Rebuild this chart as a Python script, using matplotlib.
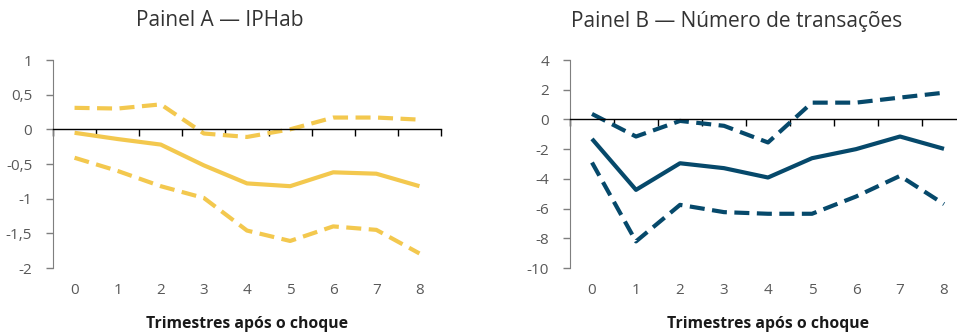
import matplotlib.pyplot as plt
from matplotlib.ticker import FuncFormatter

plt.rcParams['font.family'] = ['Open Sans', 'DejaVu Sans']

# Trimestres após o choque
trimestres = [0, 1, 2, 3, 4, 5, 6, 7, 8]

# Painel A — IPHab (resposta e intervalo)
iphab_resp = [-0.05, -0.14, -0.22, -0.52, -0.78, -0.82, -0.62, -0.64, -0.82]
iphab_sup = [0.31, 0.30, 0.36, -0.06, -0.11, 0.00, 0.17, 0.17, 0.14]
iphab_inf = [-0.41, -0.60, -0.82, -0.99, -1.46, -1.61, -1.40, -1.45, -1.79]

# Painel B — Número de transações
trans_resp = [-1.31, -4.74, -2.95, -3.28, -3.91, -2.61, -2.00, -1.15, -1.98]
trans_sup = [0.37, -1.15, -0.10, -0.43, -1.55, 1.13, 1.13, 1.47, 1.80]
trans_inf = [-2.90, -8.21, -5.75, -6.24, -6.35, -6.35, -5.19, -3.80, -5.70]

amarelo = "#F3C84E"
azul = "#06496B"
cinza = "#595959"

fig = plt.figure(figsize=(9.57, 3.36), dpi=100)
ax_a = fig.add_axes([53/957, 68/336, 388/957, 208/336])
ax_b = fig.add_axes([570/957, 68/336, 396/957, 208/336])


def virgula(v, pos):
    s = f"{v:g}".replace(".", ",")
    return s


def montar(ax, resp, sup, inf, cor, yticks):
    ax.plot(trimestres, resp, color=cor, lw=3.0, solid_capstyle="butt")
    for serie in (sup, inf):
        ax.plot(trimestres, serie, color=cor, lw=3.0, dashes=(3.6, 1.8))
    ax.set_xlim(-0.5, 8.5)
    ax.set_ylim(yticks[0], yticks[-1])
    ax.set_yticks(yticks)
    ax.yaxis.set_major_formatter(FuncFormatter(virgula))
    ax.tick_params(axis="y", length=5, width=1, color="#7f7f7f", labelcolor=cinza,
                   labelsize=11, pad=10)
    for lado in ("top", "right"):
        ax.spines[lado].set_visible(False)
    ax.spines["left"].set_color("#7f7f7f")
    # eixo x cruzando em zero, com marcas entre as categorias
    ax.spines["bottom"].set_position(("data", 0))
    ax.spines["bottom"].set_color("black")
    ax.spines["bottom"].set_linewidth(1)
    ax.set_xticks([t - 0.5 for t in trimestres] + [8.5])
    ax.set_xticklabels([])
    ax.tick_params(axis="x", length=5, width=1, color="black")
    # rótulos das categorias embaixo do gráfico
    sec = ax.secondary_xaxis(0)
    sec.set_xticks(trimestres)
    sec.set_xticklabels([str(t) for t in trimestres])
    sec.tick_params(length=0, labelcolor=cinza, labelsize=11, pad=11)
    sec.spines["bottom"].set_visible(False)
    sec.set_xlabel("Trimestres após o choque", fontsize=11.3, fontweight="bold",
                   color="#1a1a1a", labelpad=13)


montar(ax_a, iphab_resp, iphab_sup, iphab_inf, amarelo, [-2, -1.5, -1, -0.5, 0, 0.5, 1])
montar(ax_b, trans_resp, trans_sup, trans_inf, azul, [-10, -8, -6, -4, -2, 0, 2, 4])

fig.text(220/957, 1 - 21/336, "Painel A — IPHab", ha="center", va="center",
         fontsize=15, color="#333333")
fig.text(737/957, 1 - 21/336, "Painel B — Número de transações", ha="center",
         va="center", fontsize=15, color="#333333")

fig.savefig("out.png", dpi=100)
